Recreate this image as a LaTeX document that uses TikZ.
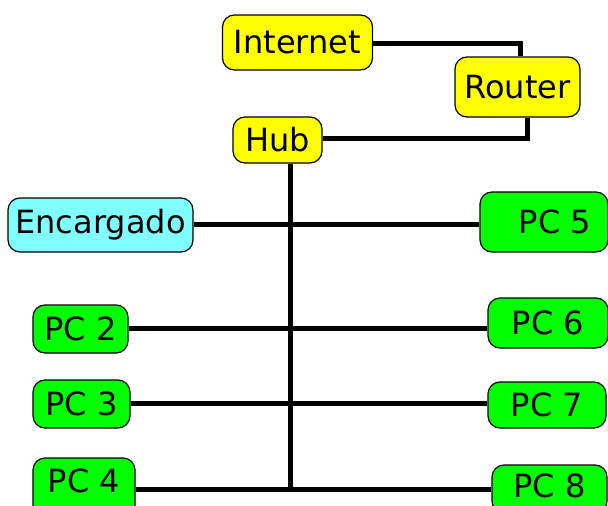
\documentclass[tikz,border=0pt]{standalone}
\usepackage{fontspec}
\setmainfont{DejaVu Sans}
\definecolor{yel}{RGB}{255,255,0}
\definecolor{cya}{RGB}{128,255,255}
\definecolor{grn}{RGB}{0,255,0}
\begin{document}
\begin{tikzpicture}[x=1pt,y=-1pt,
  box/.style={draw=black,line width=1.2pt,rounded corners=12pt,inner sep=0pt,
    font=\fontsize{32}{36}\selectfont,anchor=center},
  link/.style={line width=5pt,black}]
\useasboundingbox (0,0) rectangle (608,506);
\begin{scope}
\clip (0,0) rectangle (608,506);
\node[box,fill=yel,minimum width=150pt,minimum height=55pt] (inet) at (297.5,42.5) {Internet};
\node[box,fill=yel,minimum width=125pt,minimum height=60pt] (router) at (517.5,87) {Router};
\node[box,fill=yel,minimum width=89pt,minimum height=46pt] (hub) at (277.5,140) {Hub};
\node[box,fill=cya,minimum width=185pt,minimum height=54pt] (enc) at (100.5,225) {Encargado};
\node[box,fill=grn,minimum width=95pt,minimum height=48pt] (pc2) at (80.5,329) {PC 2};
\node[box,fill=grn,minimum width=97pt,minimum height=48pt] (pc3) at (81.5,404) {PC 3};
\node[box,fill=grn,minimum width=102pt,minimum height=62pt] (pc4) at (84,489) {\raisebox{16pt}{PC 4}};
\node[box,fill=grn,minimum width=128pt,minimum height=60pt] (pc5) at (544,222) {\hspace*{22pt}PC 5};
\node[box,fill=grn,minimum width=120pt,minimum height=50pt] (pc6) at (548,323) {PC 6};
\node[box,fill=grn,minimum width=118pt,minimum height=46pt] (pc7) at (547,405) {PC 7};
\node[box,fill=grn,minimum width=115pt,minimum height=48pt] (pc8) at (549.5,489) {\raisebox{7pt}{PC 8}};
\coordinate (c1) at (520,43);
\coordinate (c2) at (527,138);
\coordinate (bus) at (290,489);
\draw[link] (inet.east |- c1) -- (c1) -- (c1 |- router.north);
\draw[link] (c2 |- router.south) -- (c2) -- (c2 -| hub.east);
\draw[link] (bus |- hub.south) -- (bus);
\draw[link] (enc.east) ++(0,-1) -- (pc5.west |- 0,224);
\draw[link] (pc2.east |- 0,328) -- (pc6.west |- 0,328);
\draw[link] (pc3.east |- 0,403) -- (pc7.west |- 0,403);
\draw[link] (pc4.east) -- (pc8.west);
\end{scope}
\end{tikzpicture}
\end{document}
